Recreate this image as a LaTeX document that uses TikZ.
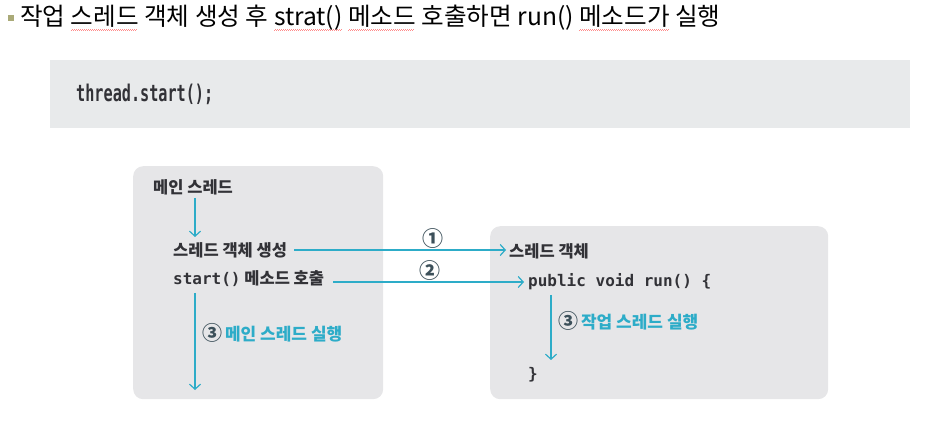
\documentclass[tikz,border=0pt]{standalone}
\usepackage{fontspec}
\setmainfont{Noto Sans CJK KR}
\newfontfamily\codefont{DejaVu Sans Mono}
\newfontfamily\stripfont[FakeStretch=0.66]{DejaVu Sans Mono}
\usetikzlibrary{arrows.meta, positioning}

\definecolor{threadbg}{RGB}{230,230,232}
\definecolor{codebg}{RGB}{232,234,235}
\definecolor{flowcyan}{RGB}{45,172,200}
\definecolor{labeldark}{RGB}{50,50,55}
\definecolor{stepgray}{RGB}{60,80,90}
\definecolor{bulletolive}{RGB}{170,170,120}

% wavy spell-check underline
\newcommand\spellmark[1]{\setbox0\hbox{#1}\rlap{\lower5pt\hbox to \wd0{\color{red!45}\leaders\hbox to 2pt{\rule{1pt}{0.7pt}\rule[0.7pt]{1pt}{0.7pt}}\hfil}}\box0\relax}

\begin{document}
\begin{tikzpicture}[x=1pt, y=-1pt,
		panel/.style = {fill=threadbg, rounded corners=10pt, inner sep=0pt},
		label/.style = {text=labeldark, font=\fontsize{16.5}{16.5}\selectfont\bfseries, inner sep=1pt, anchor=west},
		code/.style = {text=labeldark, font=\fontsize{16}{16}\codefont\bfseries, inner sep=1pt, anchor=west},
		note/.style = {text=flowcyan, font=\fontsize{17}{17}\selectfont\bfseries, inner sep=1pt, anchor=west},
		flow/.style = {draw=flowcyan, line width=1.2pt, -{Straight Barb[length=5pt, width=11pt]}},
		stepnum/.style = {text=stepgray, font=\fontsize{21}{21}\selectfont\bfseries, inner sep=1pt}
		]
		\useasboundingbox (0,0) rectangle (940,430);
		
		% --- TITULO ---
		\node [fill=bulletolive, minimum size=6pt, inner sep=0pt] (bullet) at (11,18) {};
		\node [anchor=west, inner sep=0pt, font=\fontsize{24.6}{24.6}\selectfont] (title) at (20,18)
		{작업 \spellmark{스레드} 객체 생성 후 \spellmark{strat()} \spellmark{메소드} 호출하면 run() \spellmark{메소드가} 실행};
		
		% --- CODIGO ---
		\node [fill=codebg, minimum width=860pt, minimum height=68pt, inner sep=0pt, anchor=north west] (strip) at (50,60) {};
		\node [right=26pt of strip.west, anchor=west, inner sep=0pt, text=labeldark, font=\fontsize{23}{23}\stripfont\bfseries] (startline) {thread.start();};
		
		% --- HILO PRINCIPAL ---
		\node [panel, minimum width=250pt, minimum height=233pt, anchor=north west] (mainbox) at (133,166) {};
		\node [label] (mainname) at (152,187) {메인 스레드};
		\node [label] (create) at (172,250) {스레드 객체 생성};
		\node [label] (startcall) at (172,279) {{\fontsize{16}{16}\codefont start()}\ 메소드 호출};
		\coordinate (mainflowtop) at (195,198);
		\coordinate (mainflowend) at (195,237);
		\coordinate (mainruntop) at (195,293);
		\coordinate (mainrunend) at (195,390);
		\node [note] (mainnote) at (201,333) {{\color{stepgray}\fontsize{20}{20}\selectfont ③}\,메인 스레드 실행};
		
		% --- HILO DE TRABAJO ---
		\node [panel, minimum width=338pt, minimum height=173pt, anchor=north west] (workbox) at (490,226) {};
		\node [label] (threadobj) at (508,251) {스레드 객체};
		\node [code] (runhead) at (527,282) {public void run() \{};
		\node [code] (runend) at (527,375) {\}};
		\coordinate (workruntop) at (551,295);
		\coordinate (workrunend) at (551,360);
		\node [note] (worknote) at (557,321) {{\color{stepgray}\fontsize{20}{20}\selectfont ③}\,작업 스레드 실행};
		
		% --- CONEXIONES ---
		\draw [flow] (mainflowtop) -- (mainflowend);
		\draw [flow] (mainruntop) -- (mainrunend);
		\draw [flow] (workruntop) -- (workrunend);
		\draw [flow, shorten <=6pt, shorten >=2pt] (create.east) -- node[stepnum, above, pos=0.66] (stepone) {①} (create.east -| threadobj.west);
		\draw [flow, shorten <=8pt, shorten >=3pt] ([yshift=-3pt]startcall.east) -- node[stepnum, above, pos=0.52] (steptwo) {②} ([yshift=-3pt]startcall.east -| runhead.west);
		
	\end{tikzpicture}
\end{document}
